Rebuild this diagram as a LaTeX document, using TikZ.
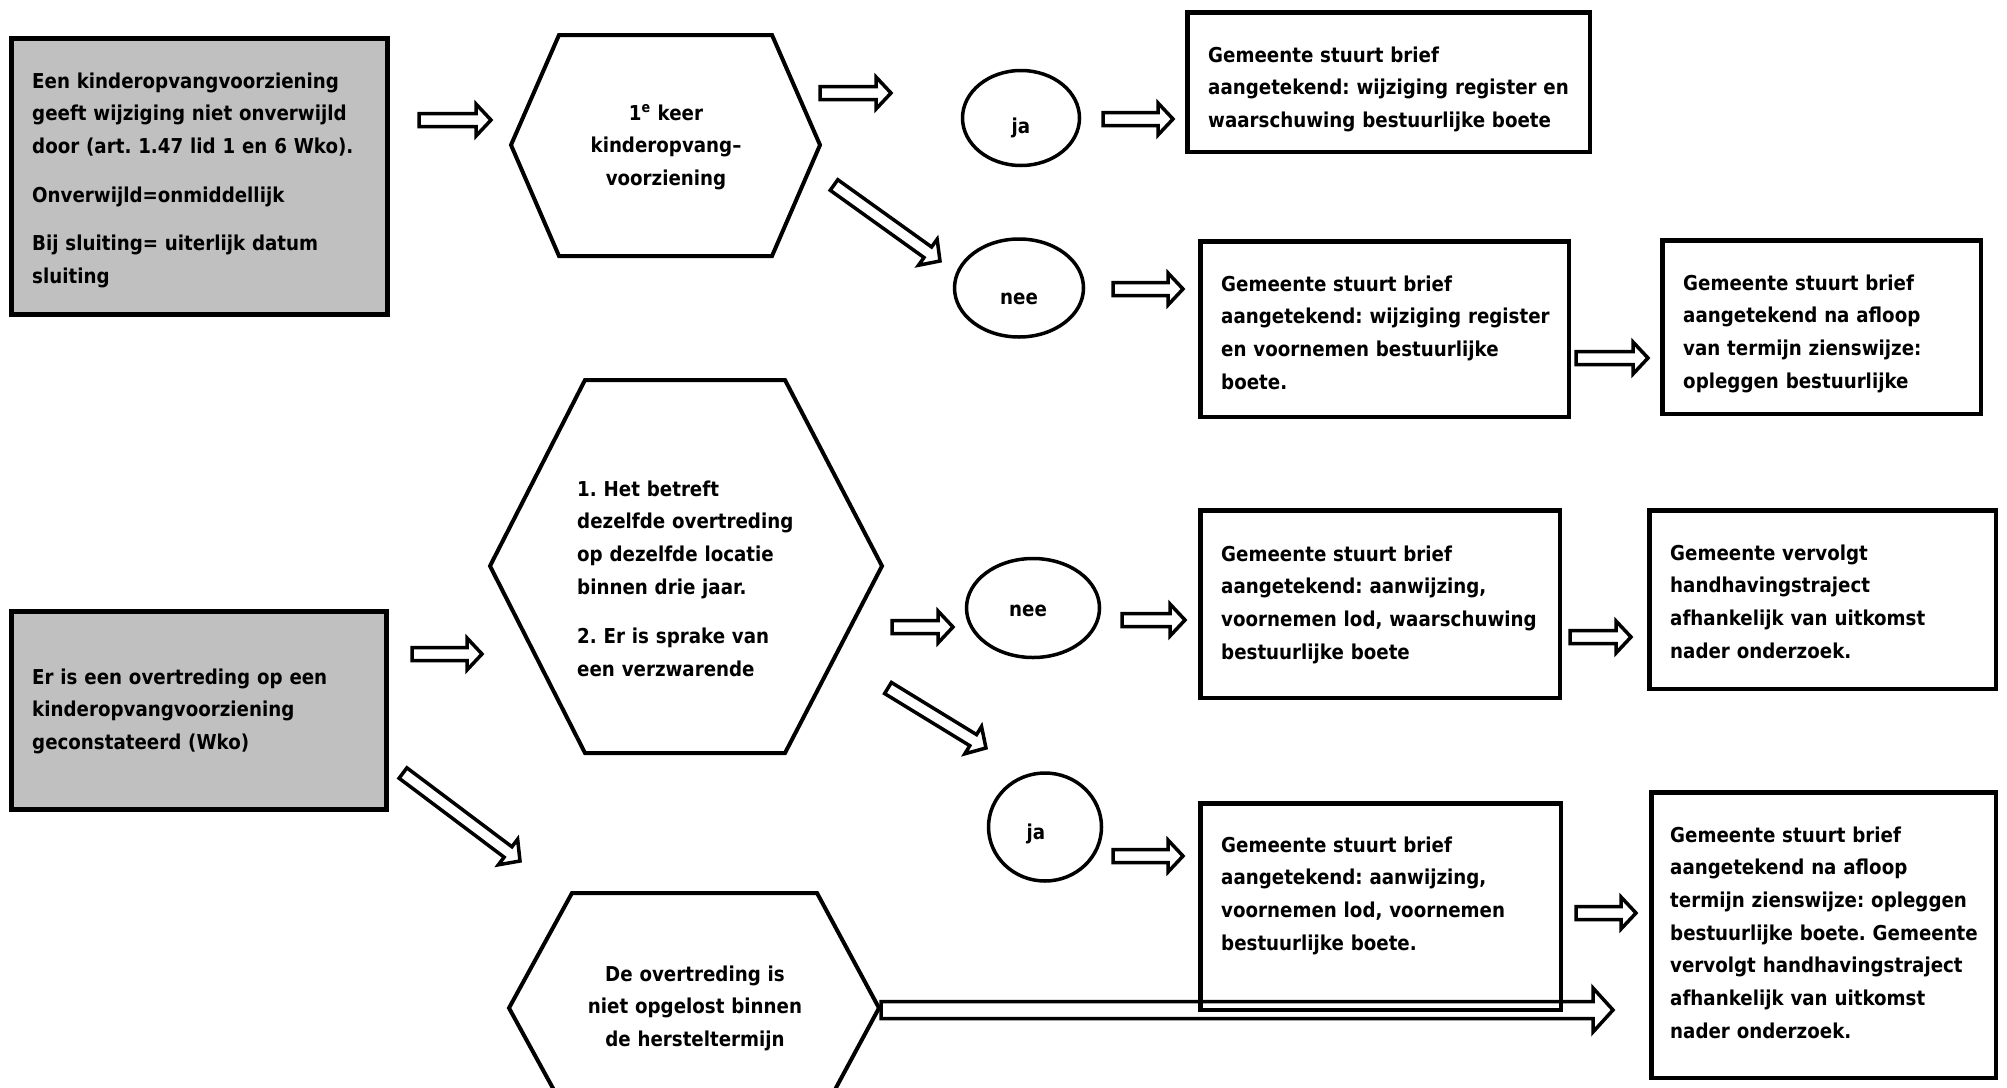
\documentclass[tikz,border=0pt]{standalone}
\usepackage{fontspec}
\newfontfamily\tf{DejaVu Sans Bold}[FakeStretch=0.89]
\usetikzlibrary{calc,shapes.geometric}
\definecolor{boxgray}{HTML}{C0C0C0}
\newcommand\txtfont{\tf\fontsize{20.5}{32.7}\selectfont\frenchspacing}
\tikzset{
 frame/.style={draw=black, line width=4.5pt, inner sep=0pt, fill=white},
 grayframe/.style={draw=black, line width=5pt, inner sep=0pt, fill=boxgray},
 txt/.style={inner sep=0pt, text width=440pt, align=left, anchor=base west, font=\txtfont},
 ctxt/.style={inner sep=0pt, text width=340pt, align=center, anchor=base, font=\txtfont},
 lbl/.style={inner sep=0pt, anchor=base, font=\txtfont},
 oval/.style={ellipse, draw=black, line width=3.5pt, inner sep=0pt, fill=white},
 hexa/.style={draw=black, line width=4pt, line join=miter, fill=white},
 barrowline/.style={draw=black, line width=3.5pt, line join=miter},
 barrowfill/.style={barrowline, fill=white},
}
\newcommand\barrow[6]{% #1 style, #2 tail, #3 tip, #4 shaft half, #5 head half, #6 head length
  \path let \p1=($(#3)-(#2)$), \n1={atan2(\y1,\x1)}, \n2={veclen(\x1,\y1)} in
    \pgfextra{\xdef\barang{\n1}\xdef\barlen{\n2}};
  \begin{scope}[shift={(#2)}, rotate=\barang, x=1pt, y=1pt]
    \draw[#1] (0,-#4) -- ({\barlen-#6},-#4) -- ({\barlen-#6},-#5) -- (\barlen,0)
      -- ({\barlen-#6},#5) -- ({\barlen-#6},#4) -- (0,#4) -- cycle;
  \end{scope}}
\begin{document}
\begin{tikzpicture}[x=1pt,y=-1pt]
\useasboundingbox (0,0) rectangle (2007,1087);
\clip (0,0) rectangle (2007,1087);
\fill[white] (0,0) rectangle (2007,1087);

% ---------- boxes ----------
\node[grayframe, minimum width=376.5pt, minimum height=276.5pt] (A) at (199.5,176.5) {};
\node[grayframe, minimum width=375pt, minimum height=198pt] (C) at (199,710.5) {};
\node[frame, minimum width=402.5pt, minimum height=139.5pt] (B1) at (1388.5,82) {};
\node[frame, minimum width=368.5pt, minimum height=175.5pt] (B2) at (1384.5,329) {};
\node[frame, minimum width=318.5pt, minimum height=173.5pt] (B3) at (1821.5,327) {};
\node[frame, minimum width=359.5pt, minimum height=187.5pt] (D1) at (1380,604) {};
\node[frame, minimum width=346.5pt, minimum height=178.5pt] (D2) at (1822.5,599.5) {};
\node[frame, minimum width=360.5pt, minimum height=206.5pt] (E1) at (1380.5,906.5) {};
\node[frame, minimum width=344.5pt, minimum height=285.5pt] (E2) at (1823.5,935) {};

% ---------- hexagons ----------
\draw[hexa] (559,35) -- (772,35) -- (820,145) -- (772,256) -- (559,256) -- (511,145) -- cycle;
\draw[hexa] (585,380) -- (785,380) -- (882,566) -- (785,753) -- (585,753) -- (490,566) -- cycle;
\draw[hexa] (572,893) -- (817,893) -- (879,1008) -- (817,1123) -- (572,1123) -- (509,1008) -- cycle;
\coordinate (H1) at (665.5,145);
\coordinate (H2) at (686,566);
\coordinate (H3) at (694,1008);

% ---------- ovals ----------
\node[oval, minimum width=117pt, minimum height=95pt] (ja1) at (1021,118) {};
\node[oval, minimum width=129pt, minimum height=98pt] (nee1) at (1019,288) {};
\node[oval, minimum width=133pt, minimum height=99pt] (nee2) at (1033,608) {};
\node[oval, minimum width=113pt, minimum height=108pt] (ja2) at (1045,827) {};

% ---------- texts ----------
\node[txt] (tA) at (32,88) {Een kinderopvangvoorziening\\ geeft wijziging niet onverwijld\\ door (art. 1.47 lid 1 en 6 Wko).\\[16pt] Onverwijld=onmiddellijk\\[16pt] Bij sluiting= uiterlijk datum\\ sluiting};
\node[txt] (tC) at (32,684) {Er is een overtreding op een\\ kinderopvangvoorziening\\ geconstateerd (Wko)};
\node[ctxt] (tH1) at (666,120) {1\textsuperscript{e} keer\\ kinderopvang–\\ voorziening};
\node[txt] (tH2) at (577,496) {1. Het betreft\\ dezelfde overtreding\\ op dezelfde locatie\\ binnen drie jaar.\\[17pt] 2. Er is sprake van\\ een verzwarende};
\node[ctxt] (tH3) at (695,981) {De overtreding is\\ niet opgelost binnen\\ de hersteltermijn};
\node[lbl] (lja1) at (1021,133) {ja};
\node[lbl] (lnee1) at (1019,304) {nee};
\node[lbl] (lnee2) at (1028,616) {nee};
\node[lbl] (lja2) at (1036,839) {ja};
\node[txt] (tB1) at (1208,62) {Gemeente stuurt brief\\ aangetekend: wijziging register en\\ waarschuwing bestuurlijke boete};
\node[txt] (tB2) at (1221,291) {Gemeente stuurt brief\\ aangetekend: wijziging register\\ en voornemen bestuurlijke\\ boete.};
\node[txt] (tB3) at (1683,290) {Gemeente stuurt brief\\ aangetekend na afloop\\ van termijn zienswijze:\\ opleggen bestuurlijke};
\node[txt] (tD1) at (1221,561) {Gemeente stuurt brief\\ aangetekend: aanwijzing,\\ voornemen lod, waarschuwing\\ bestuurlijke boete};
\node[txt] (tD2) at (1670,560) {Gemeente vervolgt\\ handhavingstraject\\ afhankelijk van uitkomst\\ nader onderzoek.};
\node[txt] (tE1) at (1221,852) {Gemeente stuurt brief\\ aangetekend: aanwijzing,\\ voornemen lod, voornemen\\ bestuurlijke boete.};
\node[txt] (tE2) at (1670,842) {Gemeente stuurt brief\\ aangetekend na afloop\\ termijn zienswijze: opleggen\\ bestuurlijke boete. Gemeente\\ vervolgt handhavingstraject\\ afhankelijk van uitkomst\\ nader onderzoek.};

% ---------- arrow end points ----------
\coordinate (a1s) at (419,120);   \coordinate (a1e) at (491,120);
\coordinate (a2s) at (820,93);    \coordinate (a2e) at (891,93);
\coordinate (a3s) at (1103,119);  \coordinate (a3e) at (1173,119);
\coordinate (a4s) at (834,185);   \coordinate (a4e) at (940,261);
\coordinate (a5s) at (1113,289);  \coordinate (a5e) at (1183,289);
\coordinate (a6s) at (1576,358);  \coordinate (a6e) at (1648,358);
\coordinate (a7s) at (412,654);   \coordinate (a7e) at (482,654);
\coordinate (a8s) at (892,627);   \coordinate (a8e) at (953,627);
\coordinate (a9s) at (1122,620);  \coordinate (a9e) at (1185,620);
\coordinate (a10s) at (1570,637); \coordinate (a10e) at (1631,637);
\coordinate (a11s) at (888,688);  \coordinate (a11e) at (986,748);
\coordinate (a12s) at (1113,856); \coordinate (a12e) at (1183,856);
\coordinate (a13s) at (1576,913); \coordinate (a13e) at (1636,913);
\coordinate (a14s) at (403,773);  \coordinate (a14e) at (520,861);
\coordinate (a15s) at (881,1010); \coordinate (a15e) at (1613,1010);

% ---------- block arrows ----------
\barrow{barrowfill}{a1s}{a1e}{6.5}{16}{15}
\barrow{barrowfill}{a2s}{a2e}{6.5}{16}{15}
\barrow{barrowfill}{a3s}{a3e}{6.5}{16}{15}
\barrow{barrowfill}{a4s}{a4e}{6.5}{16}{15}
\barrow{barrowfill}{a5s}{a5e}{6.5}{16}{15}
\barrow{barrowfill}{a6s}{a6e}{6.5}{16}{15}
\barrow{barrowfill}{a7s}{a7e}{6.5}{16}{15}
\barrow{barrowfill}{a8s}{a8e}{6.5}{16}{15}
\barrow{barrowfill}{a9s}{a9e}{6.5}{16}{15}
\barrow{barrowfill}{a10s}{a10e}{6.5}{16}{15}
\barrow{barrowfill}{a11s}{a11e}{6.5}{16}{15}
\barrow{barrowfill}{a12s}{a12e}{6.5}{16}{15}
\barrow{barrowfill}{a13s}{a13e}{6.5}{16}{15}
\barrow{barrowfill}{a14s}{a14e}{6.5}{16}{15}
\barrow{barrowline}{a15s}{a15e}{8.5}{22}{20}
\end{tikzpicture}
\end{document}
